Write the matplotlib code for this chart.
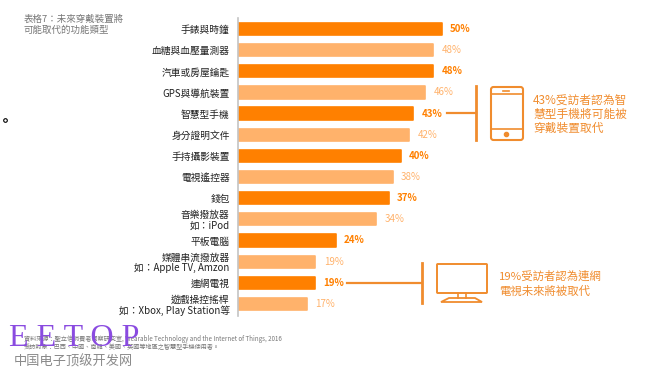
import matplotlib
matplotlib.use('Agg')
import matplotlib.pyplot as plt
from matplotlib.patches import FancyBboxPatch, Polygon

plt.rcParams['font.family'] = ['Noto Sans CJK TC', 'DejaVu Sans']

# data
categories = ['手錶與時鐘', '血糖與血壓量測器', '汽車或房屋鑰匙', 'GPS與導航裝置', '智慧型手機',
              '身分證明文件', '手持攝影裝置', '電視遙控器', '錢包', '音樂撥放器\n如：iPod',
              '平板電腦', '媒體串流撥放器\n如：Apple TV, Amzon', '連網電視',
              '遊戲操控搖桿\n如：Xbox, Play Station等']
values = [50, 48, 48, 46, 43, 42, 40, 38, 37, 34, 24, 19, 19, 17]
highlight = [1, 0, 1, 0, 1, 0, 1, 0, 1, 0, 1, 0, 1, 0]

DARK = '#ff8000'
LIGHT = '#ffb26b'
TXT = '#222222'
W, H = 658, 374

fig = plt.figure(figsize=(W / 100, H / 100), dpi=100)

# bars
ax = fig.add_axes([238 / W, 1 - 316 / H, 420 / W, 298 / H])
colors = [DARK if h else LIGHT for h in highlight]
ys = list(range(len(values)))
ax.barh(ys, values, height=0.58, color=colors, edgecolor=colors, linewidth=1.2,
        joinstyle='round')
ax.set_xlim(0, 420 / 4.07)
ax.set_ylim(13.57, -0.52)
ax.set_xticks([])
ax.set_yticks(ys)
ax.set_yticklabels(categories, fontsize=7, color=TXT, linespacing=1.05)
ax.tick_params(axis='y', length=0, pad=6)
for s in ['top', 'right', 'bottom']:
    ax.spines[s].set_visible(False)
ax.spines['left'].set_color('#c4c4c4')
ax.spines['left'].set_linewidth(1.2)
for y, v, h in zip(ys, values, highlight):
    ax.annotate(f'{v}%', (v, y), xytext=(6, 0), textcoords='offset points', va='center',
                fontsize=7, color=DARK if h else LIGHT, fontweight='bold' if h else 'normal')

# overlay in pixel coordinates for the notes and icons
ov = fig.add_axes([0, 0, 1, 1], facecolor='none')
ov.set_xlim(0, W)
ov.set_ylim(H, 0)
ov.axis('off')

ov.text(24, 19, '表格7：未來穿戴裝置將', fontsize=6.8, color='#777777', va='center')
ov.text(24, 30, '可能取代的功能類型', fontsize=6.8, color='#777777', va='center')
ov.plot([5], [120], 'o', ms=2.6, mfc='white', mec='black', mew=0.8)

NOTE = '#f08c2e'
# phone note
ov.plot([476, 476], [86, 140], color=NOTE, lw=2)
ov.plot([447, 476], [113, 113], color=NOTE, lw=1.6)
ov.add_patch(FancyBboxPatch((491, 87), 32, 53, boxstyle='round,pad=0,rounding_size=2.5',
                            fc='none', ec=NOTE, lw=1.5))
ov.plot([491, 523], [94, 94], color=NOTE, lw=1.2)
ov.plot([491, 523], [129, 129], color=NOTE, lw=1.2)
ov.plot([503, 509], [91, 91], color=NOTE, lw=1.2)
ov.plot([506], [134], 'o', ms=3, color=NOTE)
for y, t in zip([100, 114, 128], ['43%受訪者認為智', '慧型手機將可能被', '穿戴裝置取代']):
    ov.text(533, y, t, fontsize=8.45, color=NOTE, va='center')

# tv note
ov.plot([422, 422], [263, 303], color=NOTE, lw=2)
ov.plot([347, 422], [283, 283], color=NOTE, lw=1.6)
ov.add_patch(FancyBboxPatch((437, 264), 50, 29, boxstyle='round,pad=0,rounding_size=0.8',
                            fc='none', ec=NOTE, lw=1.4))
ov.plot([458, 458], [293, 298], color=NOTE, lw=1.2)
ov.plot([466, 466], [293, 298], color=NOTE, lw=1.2)
ov.add_patch(Polygon([(449, 298), (475, 298), (482, 302), (441, 302)], fc='none', ec=NOTE, lw=1.3))
for y, t in zip([276, 291], ['19%受訪者認為連網', '電視未來將被取代']):
    ov.text(499, y, t, fontsize=8.2, color=NOTE, va='center')

# source lines
ov.text(24, 339, '資料來源：聖立信消費者洞察研究室, Wearable Technology and the Internet of Things, 2016',
        fontsize=4.45, color='#777777', va='center')
ov.text(24, 347.5, '受訪對象：巴西、中國、南韓、美國、英國等地區之智慧型手機使用者。',
        fontsize=4.45, color='#777777', va='center')

# watermark
ov.text(9, 339, 'E E T O P', family='Liberation Serif', fontsize=23, color='#8a4be0', va='center')
ov.text(14, 362, '中国电子顶级开发网', fontsize=9.5, color='#8a8a8a', va='center', fontweight='medium')

fig.savefig('out.png', dpi=100)
